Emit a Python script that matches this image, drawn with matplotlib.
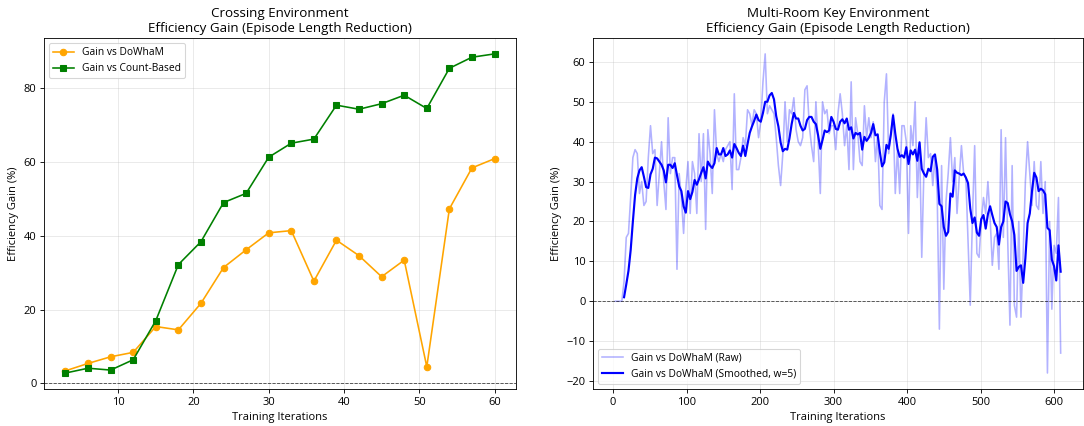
import numpy as np
import matplotlib
matplotlib.use("Agg")
import matplotlib.pyplot as plt

plt.rcParams['font.family'] = ['Open Sans', 'DejaVu Sans']
plt.rcParams['font.size'] = 10.3
plt.rcParams['axes.titlesize'] = 12.5

# 左：Crossing 環境
cross_iters = [3, 6, 9, 12, 15, 18, 21, 24, 27, 30, 33, 36, 39, 42, 45, 48, 51, 54, 57, 60]
gain_dowham = [3.4, 5.4, 7.2, 8.4, 15.4, 14.5, 21.7, 31.4, 36.2, 40.8,
               41.4, 27.7, 38.8, 34.6, 28.9, 33.4, 4.5, 47.3, 58.4, 60.9]
gain_count = [2.8, 4.1, 3.6, 6.4, 17.0, 32.2, 38.4, 49.0, 51.5, 61.3,
              65.1, 66.2, 75.4, 74.3, 75.8, 78.1, 74.5, 85.4, 88.4, 89.3]

# 右：Multi-Room Key 環境（3イテレーションごと）
mr_start, mr_step = 3, 3
mr_raw = [
    0, 0, 0, 0, 5, 16, 17, 26, 36, 38,
    37, 27, 30, 24, 25, 36, 44, 37, 38, 24,
    32, 40, 30, 23, 46, 32, 36, 36, 8, 32,
    26, 17, 28, 35, 22, 35, 32, 22, 42, 30,
    42, 18, 43, 37, 27, 48, 37, 35, 37, 35,
    38, 39, 40, 28, 52, 33, 33, 36, 41, 39,
    48, 47, 44, 48, 47, 41, 45, 55, 62, 47,
    49, 48, 47, 41, 34, 29, 37, 50, 40, 48,
    47, 51, 43, 40, 39, 41, 53, 54, 44, 39,
    35, 50, 40, 27, 50, 47, 48, 42, 44, 44,
    38, 47, 52, 47, 39, 44, 33, 55, 33, 46,
    42, 35, 34, 49, 41, 46, 41, 45, 35, 42,
    24, 23, 50, 57, 37, 42, 47, 27, 38, 27,
    44, 44, 40, 17, 44, 39, 50, 26, 40, 11,
    33, 46, 36, 37, 29, 36, 27, -7, 34, 3,
    25, 32, 41, 30, 36, 22, 31, 39, 32, 31,
    15, -1, 21, 39, 12, 11, 20, 26, 22, 30,
    21, 9, 16, 17, 8, 43, 16, 41, 15, -6,
    34, -1, -4, 20, -4, 12, 30, 40, 32, 24,
    35, 24, 23, 35, 22, 30, -18, 20, -2, 14,
    12, 26, -13,
]
window = 5

mr_iters = np.arange(len(mr_raw)) * mr_step + mr_start
mr_smooth = np.convolve(mr_raw, np.ones(window) / window, mode='valid')

fig = plt.figure(figsize=(14, 5.502))
ax1 = fig.add_axes([0.0406, 0.0869, 0.4354, 0.824])
ax2 = fig.add_axes([0.5470, 0.0869, 0.4520, 0.824])

ax1.plot(cross_iters, gain_dowham, marker='o', color='orange', label='Gain vs DoWhaM')
ax1.plot(cross_iters, gain_count, marker='s', color='green', label='Gain vs Count-Based')
ax1.axhline(0, color='black', linestyle='--', linewidth=0.8, alpha=0.7)
ax1.set_title('Crossing Environment\nEfficiency Gain (Episode Length Reduction)')
ax1.set_xlabel('Training Iterations')
ax1.set_ylabel('Efficiency Gain (%)')
ax1.legend(loc='upper left', fontsize=9.5)
ax1.grid(True, alpha=0.3)

ax2.plot(mr_iters, mr_raw, color='blue', alpha=0.3, label='Gain vs DoWhaM (Raw)')
ax2.plot(mr_iters[window - 1:], mr_smooth, color='blue', linewidth=2,
         label=f'Gain vs DoWhaM (Smoothed, w={window})')
ax2.axhline(0, color='black', linestyle='--', linewidth=0.8, alpha=0.7)
ax2.set_title('Multi-Room Key Environment\nEfficiency Gain (Episode Length Reduction)')
ax2.set_xlabel('Training Iterations')
ax2.set_ylabel('Efficiency Gain (%)')
ax2.legend(loc='lower left', fontsize=9.5)
ax2.grid(True, alpha=0.3)

fig.savefig('out.png', dpi=77.43)
